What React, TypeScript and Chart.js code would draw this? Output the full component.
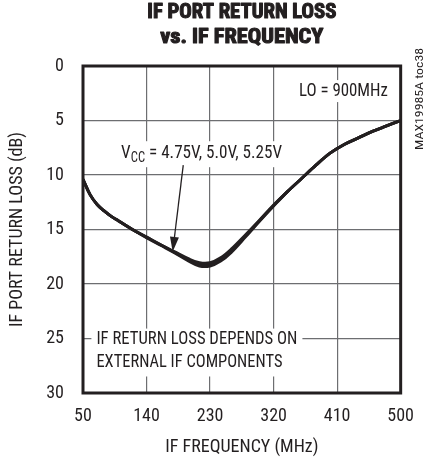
import React, { useEffect, useRef } from 'react';
import { Chart, registerables } from 'chart.js';

Chart.register(...registerables);

const TITLE_LINES = ['IF PORT RETURN LOSS', 'vs. IF FREQUENCY'];
const X_TITLE = 'IF FREQUENCY (MHz)';
const Y_TITLE = 'IF PORT RETURN LOSS (dB)';
const SIDE_TEXT = 'MAX19985A toc38';
const LO_TEXT = 'LO = 900MHz';
const VCC_MAIN = 'V';
const VCC_SUB = 'CC';
const VCC_REST = ' = 4.75V, 5.0V, 5.25V';
const NOTE_LINES = ['IF RETURN LOSS DEPENDS ON', 'EXTERNAL IF COMPONENTS'];

const X_TICKS = [50, 140, 230, 320, 410, 500];
const Y_TICKS = [0, 5, 10, 15, 20, 25, 30];

const FREQ = [50, 60, 70, 80, 90, 100, 120, 140, 160, 180, 200, 215, 230, 245, 260, 280, 300, 320, 340, 360, 380, 400, 420, 440, 460, 480, 500];
const RL_475 = [10.4, 11.8, 12.7, 13.3, 13.8, 14.2, 15.0, 15.7, 16.4, 17.05, 17.7, 18.05, 18.05, 17.6, 16.8, 15.5, 14.15, 12.75, 11.5, 10.3, 9.1, 8.0, 7.2, 6.6, 6.0, 5.5, 5.0];
const RL_500 = [10.4, 11.8, 12.7, 13.3, 13.8, 14.2, 15.0, 15.7, 16.4, 17.1, 17.8, 18.2, 18.2, 17.75, 16.95, 15.6, 14.2, 12.8, 11.5, 10.3, 9.1, 8.0, 7.2, 6.6, 6.0, 5.5, 5.0];
const RL_525 = [10.4, 11.8, 12.7, 13.3, 13.8, 14.2, 15.0, 15.75, 16.45, 17.15, 17.9, 18.35, 18.35, 17.9, 17.1, 15.7, 14.25, 12.85, 11.5, 10.3, 9.1, 8.0, 7.2, 6.6, 6.0, 5.5, 5.0];

const FONT = "'Roboto Condensed', 'DejaVu Sans Condensed', sans-serif";
const INK = '#231f20';
const GRID = '#6d6e71';

function fitText(ctx: CanvasRenderingContext2D, text: string, x: number, y: number, targetW: number, align: 'left' | 'center' | 'right', strokeW = 0) {
  const w = ctx.measureText(text).width;
  const s = targetW / w;
  ctx.save();
  ctx.textAlign = 'left';
  const left = align === 'left' ? x : align === 'center' ? x - targetW / 2 : x - targetW;
  ctx.translate(left, y);
  ctx.scale(s, 1);
  ctx.fillText(text, 0, 0);
  if (strokeW > 0) {
    ctx.lineWidth = strokeW;
    ctx.strokeStyle = ctx.fillStyle as string;
    ctx.lineJoin = 'round';
    ctx.strokeText(text, 0, 0);
  }
  ctx.restore();
}

const annotPlugin = {
  id: 'annot',
  beforeDatasetsDraw(chart: any) {
    const { ctx, scales } = chart;
    const x = scales.x, y = scales.y;
    ctx.save();
    ctx.fillStyle = '#ffffff';
    const loR = x.getPixelForValue(482), loY = y.getPixelForValue(2.3);
    ctx.fillRect(loR - 93, loY - 11, 97, 22);
    const vX = x.getPixelForValue(104), vY = y.getPixelForValue(8.0);
    ctx.fillRect(vX - 4, vY - 12, 169, 26);
    const nX = x.getPixelForValue(69), nY1 = y.getPixelForValue(25.1), nY2 = y.getPixelForValue(27.2);
    ctx.fillRect(nX - 5, nY1 - 11, 211, nY2 - nY1 + 25);
    ctx.restore();
  },
  afterDatasetsDraw(chart: any) {
    const { ctx, chartArea, scales } = chart;
    const x = scales.x, y = scales.y;
    ctx.save();
    ctx.strokeStyle = INK;
    ctx.lineWidth = 3;
    ctx.strokeRect(chartArea.left, chartArea.top, chartArea.right - chartArea.left, chartArea.bottom - chartArea.top);
    ctx.fillStyle = INK;
    ctx.textBaseline = 'middle';
    ctx.font = `19px ${FONT}`;
    fitText(ctx, LO_TEXT, x.getPixelForValue(482), y.getPixelForValue(2.3), 89, 'right');
    const vX = x.getPixelForValue(104), vY = y.getPixelForValue(8.0);
    ctx.font = `19px ${FONT}`;
    const wMain = ctx.measureText(VCC_MAIN).width;
    const wRest = ctx.measureText(VCC_REST).width;
    ctx.font = `14px ${FONT}`;
    const wSub = ctx.measureText(VCC_SUB).width;
    const total = wMain + wSub + wRest;
    const s = 161 / total;
    ctx.save();
    ctx.translate(vX, vY);
    ctx.scale(s, 1);
    ctx.textAlign = 'left';
    ctx.font = `19px ${FONT}`;
    ctx.fillText(VCC_MAIN, 0, 0);
    ctx.font = `14px ${FONT}`;
    ctx.fillText(VCC_SUB, wMain, 5);
    ctx.font = `19px ${FONT}`;
    ctx.fillText(VCC_REST, wMain + wSub, 0);
    ctx.restore();
    ctx.font = `19px ${FONT}`;
    const nX = x.getPixelForValue(69);
    fitText(ctx, NOTE_LINES[0], nX, y.getPixelForValue(25.1), 201, 'left');
    fitText(ctx, NOTE_LINES[1], nX, y.getPixelForValue(27.2), 186, 'left');
    const ax0 = x.getPixelForValue(192), ay0 = y.getPixelForValue(9.1);
    const ax1 = x.getPixelForValue(177), ay1 = y.getPixelForValue(17.05);
    const ang = Math.atan2(ay1 - ay0, ax1 - ax0);
    const hl = 15, hw = 4.5;
    ctx.strokeStyle = INK;
    ctx.lineWidth = 1.3;
    ctx.beginPath();
    ctx.moveTo(ax0, ay0);
    ctx.lineTo(ax1 - hl * Math.cos(ang), ay1 - hl * Math.sin(ang));
    ctx.stroke();
    ctx.beginPath();
    ctx.moveTo(ax1, ay1);
    ctx.lineTo(ax1 - hl * Math.cos(ang) - hw * Math.sin(ang), ay1 - hl * Math.sin(ang) + hw * Math.cos(ang));
    ctx.lineTo(ax1 - hl * Math.cos(ang) + hw * Math.sin(ang), ay1 - hl * Math.sin(ang) - hw * Math.cos(ang));
    ctx.closePath();
    ctx.fill();
    ctx.restore();
  },
  afterDraw(chart: any) {
    const { ctx, chartArea } = chart;
    ctx.save();
    ctx.fillStyle = INK;
    ctx.textBaseline = 'middle';
    ctx.font = `bold 21px ${FONT}`;
    const cx = (chartArea.left + chartArea.right) / 2;
    fitText(ctx, TITLE_LINES[0], cx, 13, 189, 'center', 1.1);
    fitText(ctx, TITLE_LINES[1], cx, 38, 163, 'center', 1.1);
    ctx.translate(420, 99);
    ctx.rotate(-Math.PI / 2);
    ctx.font = `10px ${FONT}`;
    fitText(ctx, SIDE_TEXT, 0, 0, 102, 'center');
    ctx.restore();
  },
};

export default function App() {
  const ref = useRef<HTMLCanvasElement | null>(null);
  useEffect(() => {
    if (!ref.current) return;
    const mk = (label: string, data: number[]) => ({
      label,
      data: FREQ.map((f, i) => ({ x: f, y: data[i] })),
      borderColor: INK,
      borderWidth: 2.9,
      pointRadius: 0,
      tension: 0.35,
      fill: false,
    });
    const chart = new Chart(ref.current, {
      type: 'line',
      data: {
        datasets: [mk('4.75V', RL_475), mk('5.0V', RL_500), mk('5.25V', RL_525)],
      },
      options: {
        animation: false,
        responsive: false,
        maintainAspectRatio: false,
        layout: { padding: { top: 66, right: 15, left: 0, bottom: 0 } },
        plugins: { legend: { display: false }, tooltip: { enabled: false }, title: { display: false } },
        scales: {
          x: {
            type: 'linear',
            min: 50,
            max: 500,
            afterBuildTicks: (s: any) => { s.ticks = X_TICKS.map((v) => ({ value: v })); },
            afterFit: (s: any) => { s.height = 65; },
            grid: { color: GRID, lineWidth: 1.2, drawTicks: false },
            border: { display: false },
            ticks: { color: INK, font: { family: FONT, size: 18 }, padding: 13, maxRotation: 0, autoSkip: false },
            title: { display: true, text: X_TITLE, color: INK, font: { family: FONT, size: 18 }, padding: { top: 0, bottom: 0 } },
          },
          y: {
            type: 'linear',
            min: 0,
            max: 30,
            reverse: true,
            afterBuildTicks: (s: any) => { s.ticks = Y_TICKS.map((v) => ({ value: v })); },
            afterFit: (s: any) => { s.width = 83; },
            grid: { color: GRID, lineWidth: 1.2, drawTicks: false },
            border: { display: false },
            ticks: { color: INK, font: { family: FONT, size: 18 }, padding: 19, autoSkip: false },
            title: { display: true, text: Y_TITLE, color: INK, font: { family: FONT, size: 18 }, padding: { top: 7, bottom: 0 } },
          },
        },
      },
      plugins: [annotPlugin],
    } as any);
    return () => chart.destroy();
  }, []);
  return (
    <div style={{ position: 'fixed', left: 0, top: 0, width: 427, height: 458, background: '#fff' }}>
      <canvas ref={ref} width={427} height={458} style={{ display: 'block', width: 427, height: 458 }} />
    </div>
  );
}
